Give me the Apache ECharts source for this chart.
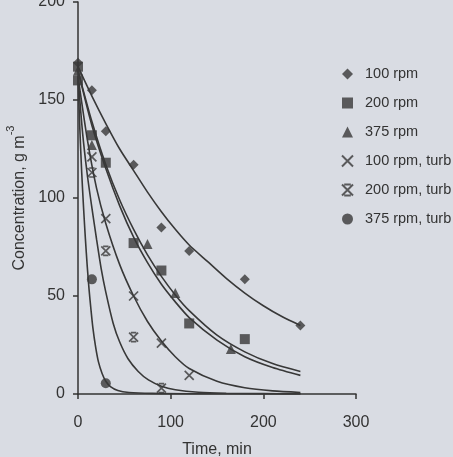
<!DOCTYPE html>
<html><head><meta charset="utf-8">
<script src="https://cdn.jsdelivr.net/npm/echarts@6/dist/echarts.min.js"></script>
<style>html,body{margin:0;padding:0;background:#d9dce3;}#c{width:453px;height:457px;}</style>
</head><body><div id="c"></div>
<script>
// tick values
const xTicks = [0, 100, 200, 300];
const yTicks = [0, 50, 100, 150, 200];
const seriesNames = ['100 rpm', '200 rpm', '375 rpm', '100 rpm, turb', '200 rpm, turb', '375 rpm, turb'];

// measured points [time (min), concentration (g m^-3)]
const rpm100 = [[0,169],[15,155],[30,134],[60,117],[90,85],[120,73],[180,58.5],[240,35]];
const rpm200 = [[0,167],[0,160],[15,132],[30,118],[60,77],[90,63],[120,36],[180,28]];
const rpm375 = [[0,165],[15,127],[75,76.5],[105,51.5],[165,23]];
const turb100 = [[15,121],[30,89.5],[60,50],[90,26],[120,9.5]];
const turb200 = [[15,113],[30,73],[60,29],[90,3]];
const turb375 = [[15,58.5],[30,5.5]];

// fitted curves
const fit100 = [[0,167],[15,152],[30,138],[45,125],[60,114],[75,103],[90,93],[105,84],[120,76],[140,67.5],[160,59],[180,51.5],[200,45],[220,39.5],[240,35]];
const fit200 = [[0,165],[15,139],[30,117],[45,99],[60,84],[75,71],[90,60],[105,50.5],[120,42.5],[150,30],[180,21.5],[210,15.5],[240,11.5]];
const fit375 = [[0,165],[15,137],[30,115],[45,96],[60,80],[75,67],[90,56],[105,47],[120,39],[150,27.5],[180,19],[210,13.5],[240,9.5]];
const fitT100 = [[0,162],[10,130],[20,105],[30,87],[45,66],[60,50],[75,37],[90,27],[105,19],[120,13],[150,6.5],[180,3.2],[210,1.6],[240,0.8]];
const fitT200 = [[0,162],[5,133],[10,112],[15,95],[20,79],[25,64],[30,52],[38,36],[45,26.5],[54,18],[65,11.5],[76,7.2],[90,4],[105,2.2],[130,0.9],[160,0.4],[200,0.2],[240,0.1]];
const fitT375 = [[0,162],[2,135],[4,113],[6,95],[8,79],[10,65],[12,53],[14,43],[16,34],[19,24],[22,16.5],[26,10.5],[30,6.5],[35,3.8],[43,1.8],[55,0.8],[80,0.3],[120,0.15],[240,0.05]];

const INK = '#383838';
const TXT = '#333333';
const FONT = 'Liberation Sans, Arial, sans-serif';
const crossPath = 'path://M0,0L10,10M10,0L0,10';
const starPath = 'path://M0,0L10,10M10,0L0,10M2,0L8,0M2,10L8,10';

const pts = [rpm100, rpm200, rpm375, turb100, turb200, turb375];
const fits = [fit100, fit200, fit375, fitT100, fitT200, fitT375];
const symbols = ['diamond', 'rect', 'triangle', crossPath, starPath, 'circle'];
const sizes = [10, 10, 10, 9, 9, 10];

const series = [];
fits.forEach(function (f) {
  series.push({
    type: 'line', data: f, smooth: 0.25, showSymbol: false, symbol: 'none',
    lineStyle: { color: INK, width: 1.6 }, silent: true, z: 2, legendHoverLink: false
  });
});
pts.forEach(function (p, i) {
  const stroke = (i === 3 || i === 4);
  series.push({
    name: seriesNames[i], type: 'scatter', data: p, symbol: symbols[i], symbolSize: sizes[i], z: 3,
    itemStyle: stroke ? { color: 'transparent', borderColor: INK, borderWidth: 1.7 } : { color: INK }
  });
});

const chart = echarts.init(document.getElementById('c'), null, { renderer: 'canvas' });
chart.setOption({
  backgroundColor: '#d9dce3',
  animation: false,
  grid: { left: 78, right: 97, top: 2, bottom: 63, outerBoundsMode: 'none', containLabel: false },
  legend: {
    data: seriesNames, orient: 'vertical', left: 341, top: 66, itemGap: 13, padding: 0,
    itemWidth: 11, itemHeight: 11,
    textStyle: { fontFamily: FONT, fontSize: 14.5, color: TXT, padding: [0, 0, 0, 7], lineHeight: 16 }
  },
  xAxis: {
    type: 'value', min: xTicks[0], max: xTicks[xTicks.length - 1], interval: xTicks[1] - xTicks[0],
    name: 'Time, min', nameLocation: 'middle', nameGap: 48,
    nameTextStyle: { fontFamily: FONT, fontSize: 16, color: TXT },
    axisLine: { lineStyle: { color: TXT, width: 1.5 } },
    axisTick: { show: true, length: 5, lineStyle: { color: TXT, width: 1.5 } },
    axisLabel: { fontFamily: FONT, fontSize: 16, color: TXT, margin: 21 },
    splitLine: { show: false }
  },
  yAxis: {
    type: 'value', min: yTicks[0], max: yTicks[yTicks.length - 1], interval: yTicks[1] - yTicks[0],
    name: '{a|Concentration, g m}{s|-3}', nameLocation: 'middle', nameGap: 45,
    nameTextStyle: {
      fontFamily: FONT, fontSize: 16, color: TXT,
      rich: {
        a: { fontFamily: FONT, fontSize: 16, color: TXT, lineHeight: 22, verticalAlign: 'bottom' },
        s: { fontFamily: FONT, fontSize: 11, color: TXT, lineHeight: 22, verticalAlign: 'top' }
      }
    },
    axisLine: { show: true, lineStyle: { color: TXT, width: 1.5 } },
    axisTick: { show: true, length: 5, lineStyle: { color: TXT, width: 1.5 } },
    axisLabel: { fontFamily: FONT, fontSize: 16, color: TXT, margin: 13 },
    splitLine: { show: false }
  },
  series: series
});
</script>
</body></html>
